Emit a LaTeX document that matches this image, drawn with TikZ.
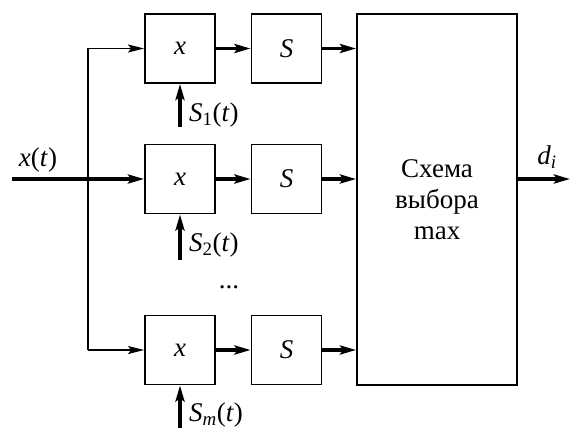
\documentclass[tikz,border=0pt]{standalone}
\usepackage{fontspec}
\setmainfont{Liberation Serif}
\usetikzlibrary{arrows.meta}
\begin{document}
\begin{tikzpicture}[x=1pt,y=-1pt,
  blk/.style={draw,line width=1.9pt,minimum width=70pt,minimum height=69pt,inner sep=0pt,font=\fontsize{27}{32}\selectfont},
  big/.style={draw,line width=1.9pt,minimum width=160pt,minimum height=371pt,inner sep=0pt,align=center,font=\fontsize{27}{31}\selectfont},
  lbl/.style={font=\fontsize{27}{32}\selectfont,inner sep=0pt},
  thk/.style={line width=3.2pt,-{Stealth[length=16pt,width=9pt,inset=3pt]}},
  thn/.style={line width=1.6pt,-{Stealth[length=16pt,width=8pt,inset=3pt]}}]
\useasboundingbox (0,0) rectangle (570,428);
\node[blk] (m1) at (180,48.5) {\textit{x}};
\node[blk] (s1) at (286.5,48.5) {\textit{S}};
\node[blk] (m2) at (180,179) {\textit{x}};
\node[blk] (s2) at (286.5,179) {\textit{S}};
\node[blk] (m3) at (180,350) {\textit{x}};
\node[blk] (s3) at (286.5,350) {\textit{S}};
\node[big] (mx) at (437,199.5) {Схема\\выбора\\max};
\coordinate (in) at (12,179);
\coordinate (b1) at (88,48.5);
\coordinate (b3) at (88,350);
\coordinate (out) at (570,179);
\coordinate (c1) at (180,127);
\coordinate (c2) at (180,260);
\coordinate (c3) at (180,428);
\draw[thk] (in) -- (m2.west);
\draw[line width=1.6pt] (b1) -- (b3);
\draw[thn] (b1) -- (m1.west);
\draw[thn] (b3) -- (m3.west);
\draw[thk] (m1) -- (s1);
\draw[thk] (m2) -- (s2);
\draw[thk] (m3) -- (s3);
\draw[thk] (s1.east) -- (s1.east -| mx.west);
\draw[thk] (s2.east) -- (s2.east -| mx.west);
\draw[thk] (s3.east) -- (s3.east -| mx.west);
\draw[thk] (c1) -- (m1.south);
\draw[thk] (c2) -- (m2.south);
\draw[thk] (c3) -- (m3.south);
\draw[thk] (mx.east |- out) -- (out);
\node[lbl,anchor=west] (l1) at (189,115) {\textit{S}\textsubscript{1}(\textit{t})};
\node[lbl,anchor=west] (l2) at (189,245) {\textit{S}\textsubscript{2}(\textit{t})};
\node[lbl,anchor=west] (l3) at (189,415) {\textit{S}\textsubscript{\textit{m}}(\textit{t})};
\node[lbl] (dots) at (229,287) {...};
\node[lbl] (xt) at (38,160) {\textit{x}(\textit{t})};
\node[lbl] (di) at (547,157) {\textit{d}\textsubscript{\textit{i}}};
\end{tikzpicture}
\end{document}
